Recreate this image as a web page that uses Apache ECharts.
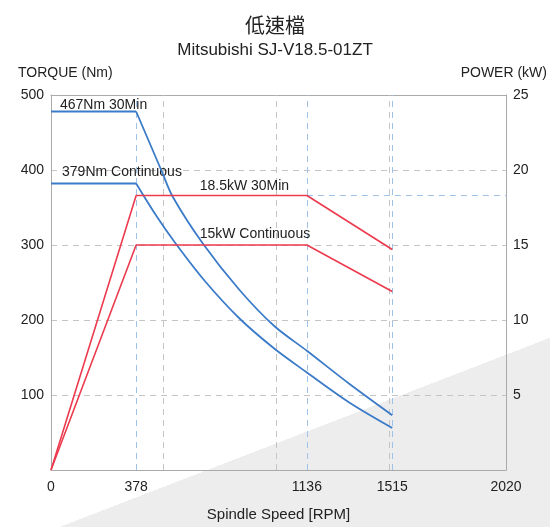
<!DOCTYPE html>
<html>
<head>
<meta charset="utf-8">
<script src="https://cdn.jsdelivr.net/npm/echarts@6/dist/echarts.min.js"></script>
<style>
html,body{margin:0;padding:0;background:#fff}
#c{width:550px;height:527px;background:linear-gradient(158.9deg,#ffffff 74.4%,#ededed 74.4%)}
</style>
</head>
<body>
<div id="c"></div>
<script>
// ---- data ----
const rpmTickLabels = [0, 378, 1136, 1515, 2020];
const guideRpm = [378, 1136, 1515];
const gridRpm = [500, 1000, 1500];
const torque30Flat = [[0, 478], [378, 478]];
const torque30Curve = [[378, 478], [492, 398], [541, 364], [674, 302], [837, 240], [991, 192], [1136, 159], [1324, 115], [1515, 73]];
const torqueContFlat = [[0, 382], [378, 382]];
const torqueContCurve = [[378, 382], [463, 341], [551, 303], [683, 252], [837, 202], [991, 162], [1136, 130], [1324, 90], [1515, 56]];
const power30 = [[0, 0], [378, 18.3], [1136, 18.3], [1515, 14.7]];
const power15 = [[0, 0], [378, 15], [1136, 15], [1515, 11.9]];
const powerGuide = 18.3;
const notes = [
  { text: '467Nm 30Min', at: [40, 487], axis: 0 },
  { text: '379Nm Continuous', at: [49, 397], axis: 0 },
  { text: '18.5kW 30Min', at: [660, 18.9], axis: 1 },
  { text: '15kW Continuous', at: [660, 15.7], axis: 1 }
];

const FONT = 'Liberation Sans, Arial, sans-serif';
const BLUE = '#3b7bc8';
const RED = '#ec3a4e';
const GUIDE_BLUE = '#9fc2e8';
const GRID_GRAY = '#c4c4c4';
const BORDER = '#aaaaaa';

function noteMark(axis) {
  return {
    symbol: 'circle', symbolSize: 0, silent: true,
    label: { show: true, position: 'right', distance: 0, color: '#222', fontSize: 14, fontFamily: FONT,
      formatter: p => p.name },
    data: notes.filter(n => n.axis === axis).map(n => ({ name: n.text, coord: n.at }))
  };
}

const chart = echarts.init(document.getElementById('c'));
chart.setOption({
  backgroundColor: 'transparent',
  animation: false,
  title: [
    { text: '低速檔', left: 'center', top: 10,
      textStyle: { fontSize: 20, fontWeight: 'normal', color: '#222', fontFamily: 'Noto Sans CJK TC' } },
    { text: 'Mitsubishi SJ-V18.5-01ZT', left: 'center', top: 37,
      textStyle: { fontSize: 17, fontWeight: 'normal', color: '#222', fontFamily: FONT } }
  ],
  grid: { left: 51, right: 43, top: 95, bottom: 54, show: false },
  xAxis: [
    {
      z: 3,
      type: 'value', min: 0, max: 2020,
      name: 'Spindle Speed [RPM]', nameLocation: 'middle', nameGap: 37,
      nameTextStyle: { fontSize: 15, color: '#222', fontFamily: FONT },
      axisLine: { show: true, onZero: false, lineStyle: { color: BORDER } },
      axisTick: { show: false },
      splitLine: { show: false },
      splitArea: { show: false },
      axisLabel: { customValues: rpmTickLabels, formatter: v => String(v), fontSize: 14, color: '#222', fontFamily: FONT, margin: 10 }
    },
    {
      z: 3, position: 'top',
      type: 'value', min: 0, max: 2020,
      axisLine: { show: true, onZero: false, lineStyle: { color: BORDER } },
      axisTick: { show: false }, axisLabel: { show: false }, splitLine: { show: false }, splitArea: { show: false }
    }
  ],
  yAxis: [
    {
      z: 3,
      type: 'value', min: 0, max: 500, interval: 100, position: 'left',
      name: 'TORQUE (Nm)', nameLocation: 'end', nameGap: 15,
      nameTextStyle: { fontSize: 14, color: '#222', fontFamily: FONT, align: 'left', padding: [0, 0, 0, -33] },
      axisLine: { show: true, onZero: false, lineStyle: { color: BORDER } },
      axisTick: { show: false },
      splitArea: { show: false },
      axisLabel: { showMinLabel: false, fontSize: 14, color: '#222', fontFamily: FONT, margin: 7 },
      splitLine: { show: true, lineStyle: { color: GRID_GRAY, type: [6, 5], width: 1 } }
    },
    {
      z: 3,
      type: 'value', min: 0, max: 25, interval: 5, position: 'right',
      name: 'POWER (kW)', nameLocation: 'end', nameGap: 15,
      nameTextStyle: { fontSize: 14, color: '#222', fontFamily: FONT, align: 'right', padding: [0, -41, 0, 0] },
      axisLine: { show: true, onZero: false, lineStyle: { color: BORDER } },
      axisTick: { show: false },
      splitArea: { show: false },
      axisLabel: { showMinLabel: false, fontSize: 14, color: '#222', fontFamily: FONT, margin: 7 },
      splitLine: { show: false }
    }
  ],
  series: [
    { name: 'T30 flat', type: 'line', yAxisIndex: 0, data: torque30Flat, showSymbol: false, z: 5,
      lineStyle: { color: BLUE, width: 1.8 }, markPoint: noteMark(0) },
    { name: 'T30 curve', type: 'line', yAxisIndex: 0, data: torque30Curve, showSymbol: false, z: 5,
      smooth: 0.3, lineStyle: { color: BLUE, width: 1.8 } },
    { name: 'Tc flat', type: 'line', yAxisIndex: 0, data: torqueContFlat, showSymbol: false, z: 5,
      lineStyle: { color: BLUE, width: 1.8 } },
    { name: 'Tc curve', type: 'line', yAxisIndex: 0, data: torqueContCurve, showSymbol: false, z: 5,
      smooth: 0.3, lineStyle: { color: BLUE, width: 1.8 } },
    { name: 'P30', type: 'line', yAxisIndex: 1, data: power30, showSymbol: false, z: 5,
      lineStyle: { color: RED, width: 1.6 }, markPoint: noteMark(1) },
    { name: 'P15', type: 'line', yAxisIndex: 1, data: power15, showSymbol: false, z: 5,
      lineStyle: { color: RED, width: 1.6 },
      markLine: {
        z: 4, silent: true, symbol: 'none', label: { show: false },
        data: [
          ...gridRpm.map(v => ({ xAxis: v, lineStyle: { color: GRID_GRAY, type: [6, 5], width: 1 } })),
          ...guideRpm.map(v => ({ xAxis: v, lineStyle: { color: GUIDE_BLUE, type: [6, 5], width: 1 } })),
          [{ coord: [1136, powerGuide], lineStyle: { color: GUIDE_BLUE, type: [6, 5], width: 1 } }, { coord: [2020, powerGuide] }]
        ]
      } }
  ]
});
</script>
</body>
</html>
